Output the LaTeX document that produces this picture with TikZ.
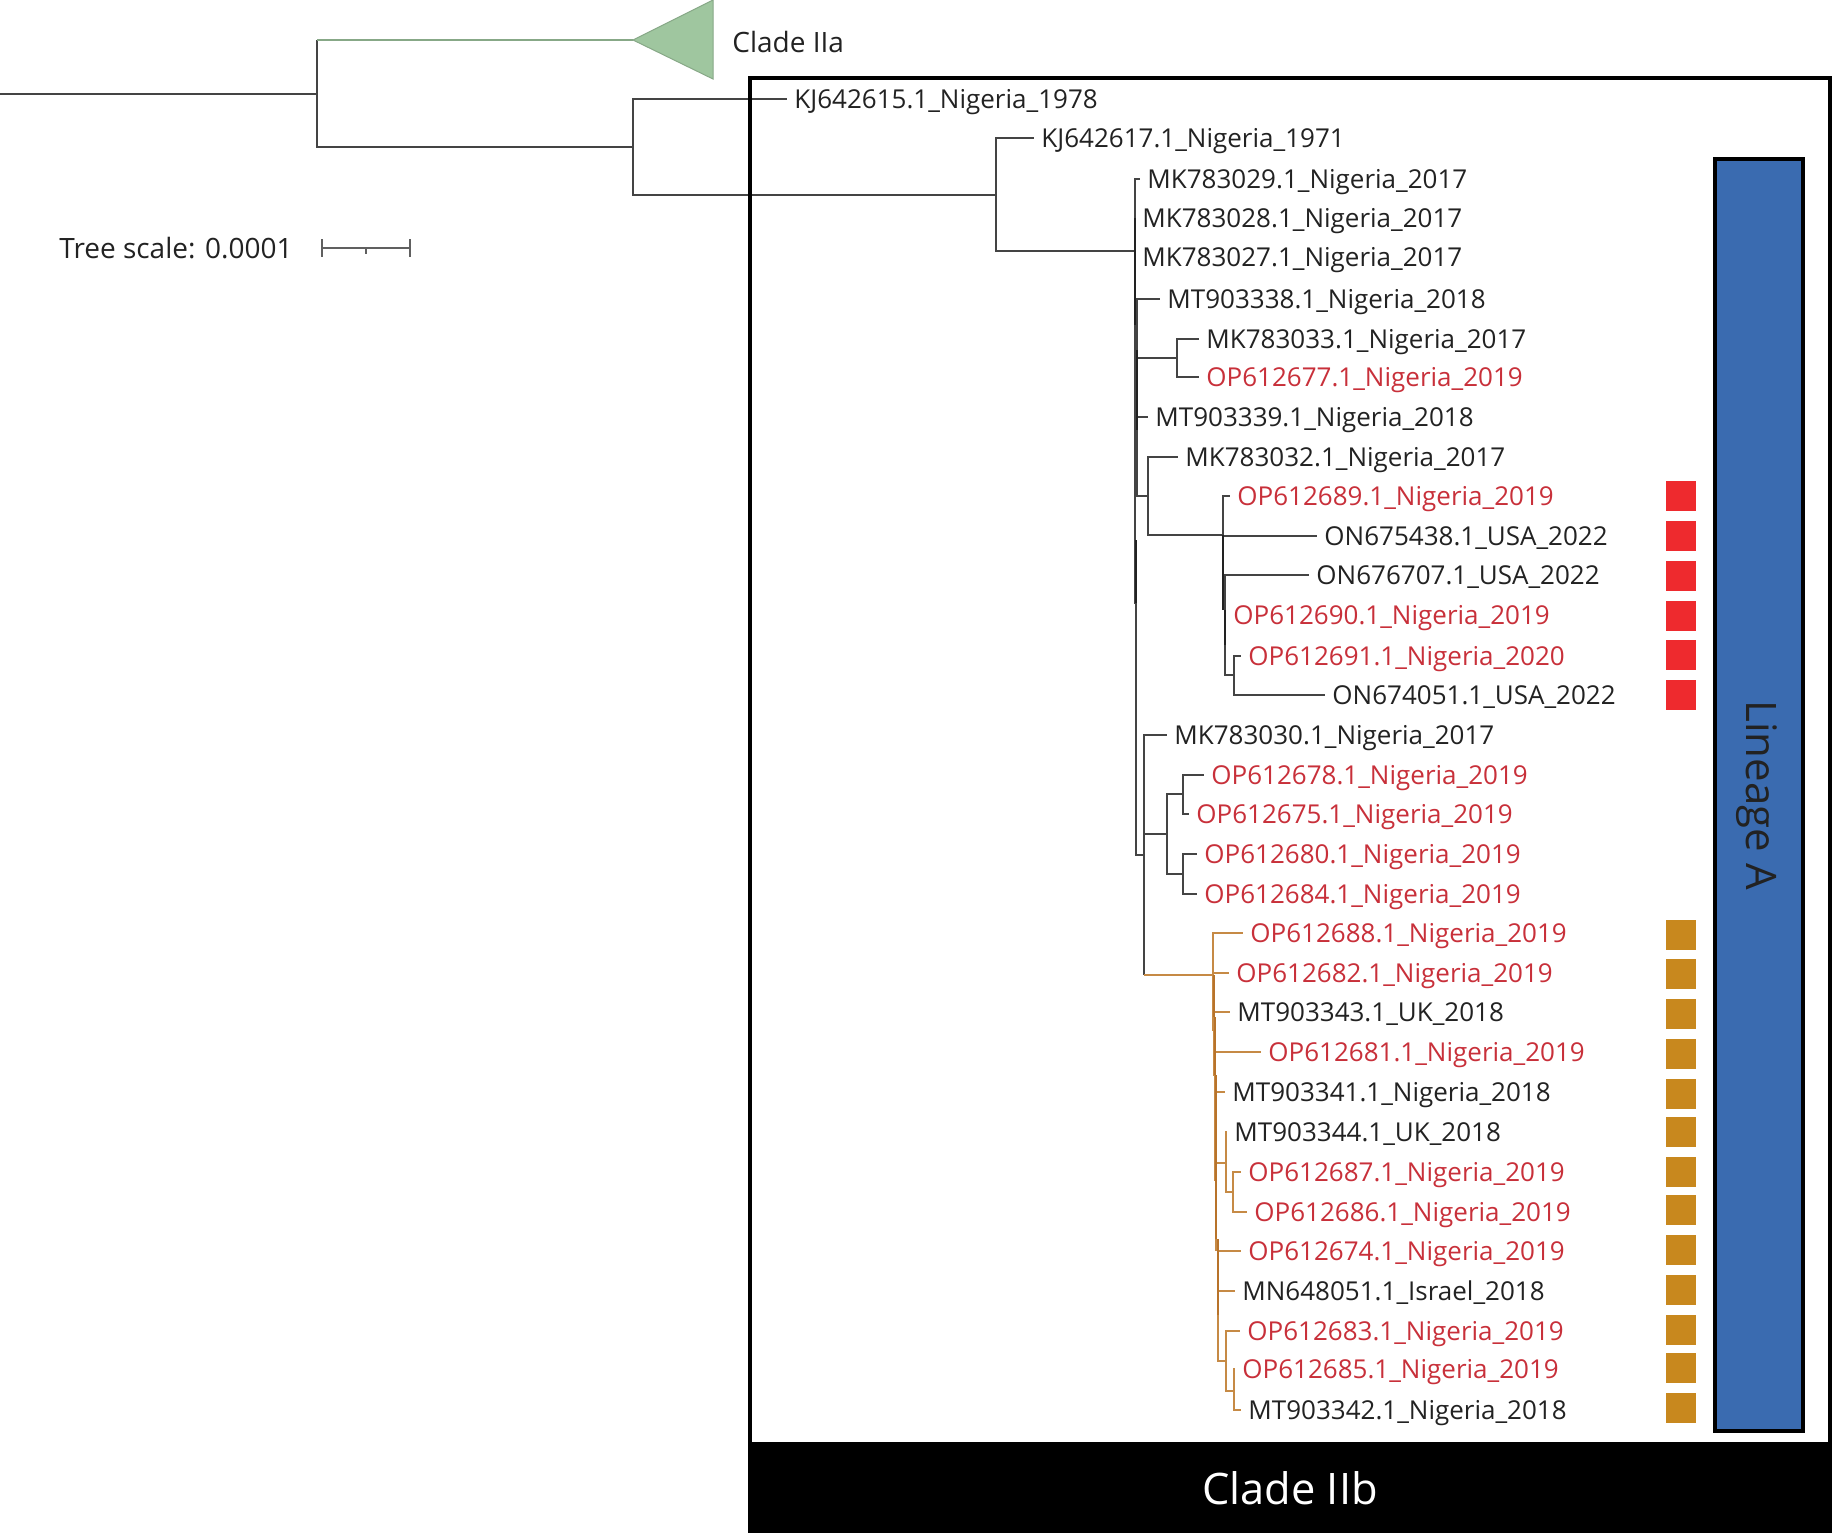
\documentclass[tikz,border=0pt]{standalone}
\usepackage{fontspec}
\setmainfont{Open Sans}
\definecolor{branchgrey}{HTML}{444444}
\definecolor{branchbrown}{HTML}{C68A45}
\definecolor{spinebrown}{HTML}{B8732A}
\definecolor{cladegreen}{HTML}{9FC69F}
\definecolor{labelred}{HTML}{C8303A}
\definecolor{labelblack}{HTML}{222222}
\definecolor{squarered}{HTML}{EE2A2E}
\definecolor{squarebrown}{HTML}{C8881E}
\definecolor{lineageblue}{HTML}{3A6BB0}
\tikzset{
    branch/.style={draw=branchgrey, line width=0.8pt},
    branchor/.style={draw=branchbrown, line width=0.8pt},
    leaf/.style={anchor=west, inner xsep=3.5pt, inner ysep=0pt, text height=9pt, text depth=0pt,
        font=\fontsize{13}{15}\selectfont, text=labelblack},
    leafred/.style={leaf, text=labelred},
    plainlabel/.style={anchor=west, inner sep=0pt, font=\fontsize{14}{16}\selectfont, text=labelblack},
    marksq/.style={minimum size=15pt, inner sep=0pt},
}
\begin{document}
\begin{tikzpicture}[x=0.5pt, y=-0.5pt]
    \useasboundingbox (0, 0) rectangle (1832, 1533);
    % подписи
    \foreach \id/\place/\yr/\xx/\yy in {
        KJ642615/Nigeria/1978/795/99, KJ642617/Nigeria/1971/1042/138,
        MK783029/Nigeria/2017/1148/179, MK783028/Nigeria/2017/1143/218,
        MK783027/Nigeria/2017/1143/257, MT903338/Nigeria/2018/1168/299,
        MK783033/Nigeria/2017/1207/339, MT903339/Nigeria/2018/1156/417,
        MK783032/Nigeria/2017/1186/457, ON675438/USA/2022/1325/536,
        ON676707/USA/2022/1317/575, ON674051/USA/2022/1333/695,
        MK783030/Nigeria/2017/1175/735, MT903343/UK/2018/1238/1012,
        MT903341/Nigeria/2018/1233/1092, MT903344/UK/2018/1235/1132,
        MN648051/Israel/2018/1243/1291, MT903342/Nigeria/2018/1249/1410
    } {
        \node[leaf] (\id) at (\xx-8, \yy) {\id.1\_\place\_\yr};
    }
    \foreach \id/\yr/\xx/\yy in {
        OP612677/2019/1207/377, OP612689/2019/1238/496, OP612690/2019/1234/615,
        OP612691/2020/1249/656, OP612678/2019/1212/775, OP612675/2019/1197/814,
        OP612680/2019/1205/854, OP612684/2019/1205/894, OP612688/2019/1251/933,
        OP612682/2019/1237/973, OP612681/2019/1269/1052, OP612687/2019/1249/1172,
        OP612686/2019/1255/1212, OP612674/2019/1249/1251, OP612683/2019/1248/1331,
        OP612685/2019/1243/1369
    } {
        \node[leafred] (\id) at (\xx-8, \yy) {\id.1\_Nigeria\_\yr};
    }
    % узлы дерева
    \foreach \n/\xx/\yy in {
        rootend/0/94, ntop/317/94, ntopup/317/40, nIIa/633/40, nIIb/633/147, nB/996/195, nC/1135/251,
        nD/1136/603, nE/1137/440, nF/1177/358, nG/1148/496, nH/1223/535, nI/1225/600,
        nJ/1234/675, nK/1144/855, nKor/1144/975, nL/1167/834, nM/1183/794, nN/1183/874, nO/1213/975,
        nP/1214/1030, nQ/1215/1075, nR/1216/1180, nS/1226/1163, nT/1233/1192,
        nU/1218/1250, nV/1226/1361, nW/1234/1391
    } {
        \coordinate (\n) at (\xx, \yy);
    }
    \draw[branch] (rootend) -- (ntop) -- (ntopup);
    \draw[draw=cladegreen!85!black, line width=1pt] (ntopup) -- (nIIa);
    \foreach \a/\b in {
        ntop/nIIb, nIIb/KJ642615.west, nIIb/nB, nB/KJ642617.west, nB/nC,
        nC/MK783029.west, nC/MK783028.west, nC/MK783027.west, nC/nD, nC/nE,
        nE/MT903338.west, nE/nF, nF/MK783033.west, nF/OP612677.west, nE/MT903339.west, nE/nG,
        nG/MK783032.west, nG/nH, nH/OP612689.west, nH/ON675438.west, nH/nI,
        nI/ON676707.west, nI/OP612690.west, nI/nJ, nJ/OP612691.west, nJ/ON674051.west,
        nD/nK, nK/MK783030.west, nK/nL, nL/nM, nM/OP612678.west, nM/OP612675.west,
        nL/nN, nN/OP612680.west, nN/OP612684.west%
    } {
        \draw[branch] (\a) |- (\b);
    }
    \draw[branch] (nK) -- (nKor);
    \draw[branchor] (nKor) -- (nO);
    \foreach \a/\b in {
        nO/OP612688.west, nO/OP612682.west, nO/nP, nP/MT903343.west, nP/nQ,
        nQ/OP612681.west, nQ/nR, nR/MT903341.west, nR/nS, nS/MT903344.west, nS/nT,
        nT/OP612687.west, nT/OP612686.west, nR/nU, nU/OP612674.west, nU/MN648051.west,
        nU/nV, nV/OP612683.west, nV/nW, nW/OP612685.west, nW/MT903342.west%
    } {
        \draw[branchor] (\a) |- (\b);
    }
    % утолщения на стволе
    \foreach \xx/\ya/\yb in {1135/218/325, 1137/350/430, 1136/540/603, 1223/535/610, 1225/610/645} {
        \draw[labelblack, line width=1.2pt] (\xx, \ya) -- (\xx, \yb);
    }
    \foreach \xx/\ya/\yb in {1214/975/1017, 1215/1017/1075, 1216/1075/1239, 1218/1239/1315} {
        \draw[spinebrown, line width=1.2pt] (\xx, \ya) -- (\xx, \yb);
    }
    % свёрнутая клада
    \draw[draw=cladegreen!85!black, fill=cladegreen, line width=0.5pt] (nIIa) -- (713, 0) -- (713, 79) -- cycle;
    \node[plainlabel] (cladeIIa) at (732, 42) {Clade IIa};
    % масштаб
    \node[plainlabel] (scaletext) at (59, 248) {Tree scale: 0.0001};
    \coordinate (scaleL) at (322, 248);
    \coordinate (scaleR) at (410, 248);
    \draw[branch, draw=branchgrey!85, line width=1.4pt] (scaleL) -- (scaleR);
    \foreach \c in {scaleL, scaleR} {
        \draw[branch, draw=branchgrey!85, line width=1pt] (\c) ++(0, -9) -- ++(0, 18);
    }
    \draw[branch, draw=branchgrey!85] (366, 248) -- ++(0, 6);
    % квадраты
    \foreach \yy [count=\i] in {496, 536, 576, 616, 655, 695} {
        \node[marksq, fill=squarered] (sqr\i) at (1681, \yy) {};
    }
    \foreach \yy [count=\i] in {935, 974, 1014, 1054, 1094, 1132, 1172, 1210, 1250, 1290, 1330, 1368, 1408} {
        \node[marksq, fill=squarebrown] (sqb\i) at (1681, \yy) {};
    }
    \node[draw=black, fill=lineageblue, line width=2pt, rotate=-90, minimum width=636pt, minimum height=44pt,
        text height=17pt, text depth=4.6pt, text=labelblack, font=\fontsize{21}{24}\selectfont] (lineageA) at (1759, 795) {Lineage A};
    % рамка клады
    \draw[line width=2pt] (750, 1460) -- (750, 78) -- (1830, 78) -- (1830, 1460);
    \node[fill=black, text=white, inner sep=0pt, minimum width=542pt, minimum height=45.5pt,
        text height=17pt, text depth=0pt, font=\fontsize{21.7}{24}\selectfont] (cladeIIb) at (1290, 1487.5) {Clade IIb};
\end{tikzpicture}
\end{document}
